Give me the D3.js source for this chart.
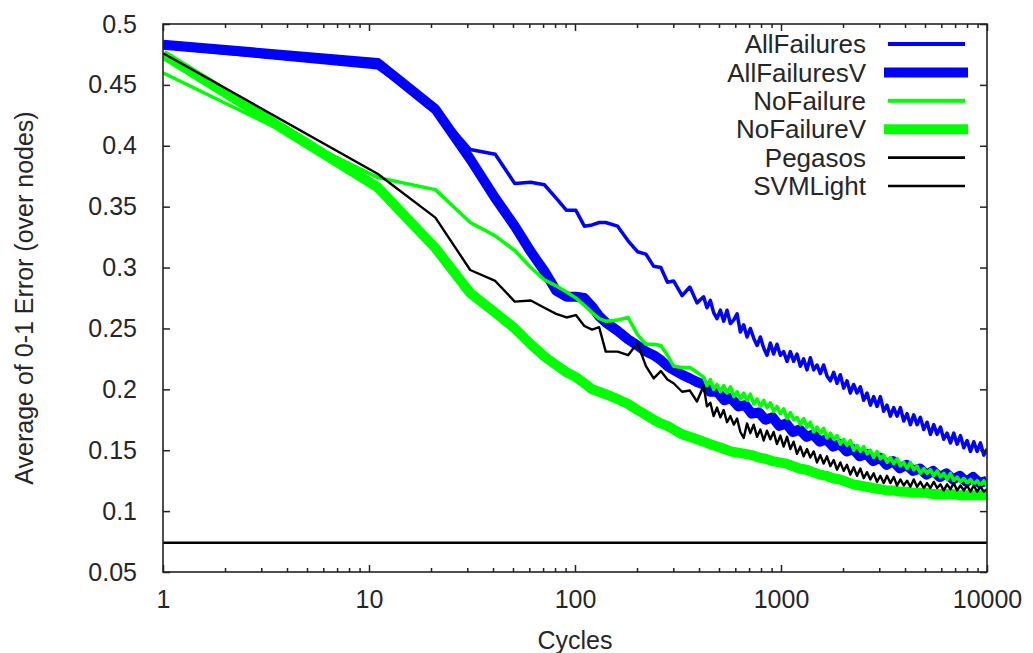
<!DOCTYPE html>
<html>
<head>
<meta charset="utf-8">
<script src="https://cdn.jsdelivr.net/npm/d3@7"></script>
<style>
  body { margin: 0; background: #fff; }
  svg text { font-family: "Liberation Sans", Arial, sans-serif; font-size: 25px; fill: #262626; }
</style>
</head>
<body>
<svg id="chart" width="1033" height="653"></svg>
<script>
// sample points of the two "V" runs
const cycles = [1, 11, 21, 31, 41, 51, 61, 71, 81, 91,
  101, 111, 121, 131, 141, 161, 181, 201, 221, 241,
  261, 281, 301, 331, 361, 391, 421, 451, 491, 531,
  571, 621, 671, 721, 781, 841, 911, 981, 1061, 1141,
  1231, 1331, 1431, 1541, 1661, 1791, 1931, 2081, 2241, 2411,
  2601, 2801, 3021, 3251, 3501, 3771, 4061, 4381, 4721, 5081,
  5471, 5901, 6351, 6841, 7371, 7941, 8551, 9211, 9991];

// denser sample points for the noisy thin runs
const cyclesFine = [1, 11, 21, 31, 41, 51, 61, 71, 81, 91,
  101, 111, 121, 131, 141, 161, 181, 201, 221, 241,
  261, 281, 301, 331, 361, 391,
  421, 437, 454, 471, 489, 508, 527, 547, 568, 590,
  612, 635, 659, 684, 710, 737, 765, 794, 824, 855,
  888, 921, 956, 993, 1030, 1070, 1110, 1152, 1196, 1241,
  1288, 1337, 1388, 1441, 1495, 1552, 1611, 1672, 1736, 1802,
  1870, 1941, 2015, 2091, 2171, 2253, 2339, 2428, 2520, 2616,
  2715, 2818, 2925, 3036, 3152, 3271, 3396, 3525, 3659, 3798,
  3942, 4092, 4247, 4409, 4576, 4750, 4931, 5118, 5313, 5515,
  5724, 5942, 6168, 6402, 6645, 6898, 7160, 7432, 7715, 8008,
  8312, 8628, 8956, 9296, 9649, 9991];

const allFailures = [0.481, 0.464, 0.430, 0.397, 0.393, 0.369, 0.370, 0.368, 0.357, 0.347,
  0.347, 0.334, 0.335, 0.337, 0.337, 0.334, 0.322, 0.313, 0.311, 0.301,
  0.300, 0.288, 0.289, 0.277, 0.284, 0.271,
  0.276, 0.267, 0.273, 0.263, 0.258, 0.265, 0.256, 0.265, 0.254, 0.257,
  0.262, 0.247, 0.253, 0.243, 0.250, 0.242, 0.236, 0.243, 0.234, 0.228,
  0.238, 0.229, 0.237, 0.228, 0.231, 0.223, 0.231, 0.223, 0.229, 0.219,
  0.225, 0.216, 0.226, 0.216, 0.220, 0.213, 0.220, 0.211, 0.207, 0.214,
  0.205, 0.212, 0.201, 0.207, 0.197, 0.204, 0.197, 0.202, 0.191, 0.197,
  0.187, 0.194, 0.186, 0.194, 0.182, 0.187, 0.178, 0.185, 0.178, 0.185,
  0.174, 0.180, 0.171, 0.179, 0.171, 0.177, 0.167, 0.173, 0.163, 0.171,
  0.163, 0.169, 0.159, 0.164, 0.156, 0.164, 0.155, 0.162, 0.152, 0.158,
  0.149, 0.157, 0.149, 0.156, 0.146, 0.151];

const allFailuresV = [0.483, 0.468, 0.430, 0.389, 0.357, 0.334, 0.313, 0.297, 0.281, 0.276,
  0.276, 0.275, 0.268, 0.260, 0.255, 0.248, 0.241, 0.236, 0.231, 0.228,
  0.224, 0.219, 0.216, 0.212, 0.209, 0.206, 0.204, 0.198, 0.198, 0.191,
  0.193, 0.186, 0.187, 0.180, 0.181, 0.175, 0.177, 0.170, 0.172, 0.165,
  0.167, 0.161, 0.163, 0.157, 0.159, 0.153, 0.155, 0.149, 0.151, 0.145,
  0.147, 0.141, 0.144, 0.138, 0.141, 0.135, 0.138, 0.133, 0.135, 0.130,
  0.133, 0.128, 0.131, 0.126, 0.129, 0.124, 0.128, 0.123, 0.125];

const noFailure = [0.460, 0.374, 0.364, 0.337, 0.326, 0.314, 0.300, 0.290, 0.285, 0.280,
  0.275, 0.269, 0.263, 0.258, 0.256, 0.257, 0.259, 0.245, 0.237, 0.237,
  0.236, 0.228, 0.219, 0.218, 0.218, 0.214,
  0.210, 0.203, 0.208, 0.200, 0.204, 0.198, 0.203, 0.197, 0.202, 0.194,
  0.198, 0.192, 0.197, 0.191, 0.196, 0.188, 0.192, 0.186, 0.191, 0.185,
  0.189, 0.182, 0.186, 0.180, 0.184, 0.176, 0.181, 0.175, 0.177, 0.171,
  0.176, 0.169, 0.173, 0.165, 0.169, 0.164, 0.168, 0.160, 0.164, 0.159,
  0.162, 0.155, 0.159, 0.154, 0.158, 0.150, 0.154, 0.149, 0.153, 0.147,
  0.150, 0.144, 0.149, 0.143, 0.146, 0.140, 0.144, 0.139, 0.143, 0.137,
  0.140, 0.135, 0.140, 0.134, 0.137, 0.131, 0.135, 0.131, 0.134, 0.129,
  0.133, 0.128, 0.131, 0.126, 0.131, 0.125, 0.128, 0.124, 0.127, 0.123,
  0.126, 0.122, 0.125, 0.121, 0.125, 0.121];

const noFailureV = [0.475, 0.366, 0.316, 0.279, 0.263, 0.250, 0.237, 0.227, 0.220, 0.214,
  0.210, 0.205, 0.200, 0.198, 0.196, 0.192, 0.188, 0.183, 0.179, 0.175,
  0.172, 0.170, 0.167, 0.163, 0.161, 0.159, 0.157, 0.155, 0.153, 0.151,
  0.149, 0.148, 0.147, 0.146, 0.144, 0.143, 0.141, 0.140, 0.139, 0.137,
  0.135, 0.134, 0.132, 0.130, 0.129, 0.127, 0.126, 0.124, 0.122, 0.121,
  0.120, 0.119, 0.118, 0.117, 0.117, 0.116, 0.116, 0.115, 0.115, 0.115,
  0.114, 0.114, 0.114, 0.114, 0.113, 0.113, 0.113, 0.113, 0.113];

const pegasos = [0.476, 0.377, 0.341, 0.298, 0.289, 0.272, 0.273, 0.267, 0.262, 0.259,
  0.261, 0.252, 0.249, 0.251, 0.231, 0.231, 0.228, 0.238, 0.219, 0.209,
  0.215, 0.208, 0.205, 0.198, 0.199, 0.190,
  0.203, 0.186, 0.189, 0.178, 0.185, 0.177, 0.183, 0.173, 0.178, 0.171,
  0.176, 0.165, 0.160, 0.172, 0.164, 0.171, 0.161, 0.167, 0.158, 0.166,
  0.159, 0.165, 0.155, 0.162, 0.153, 0.161, 0.151, 0.157, 0.147, 0.153,
  0.145, 0.151, 0.144, 0.149, 0.140, 0.146, 0.139, 0.145, 0.137, 0.142,
  0.134, 0.140, 0.133, 0.138, 0.130, 0.136, 0.129, 0.135, 0.127, 0.132,
  0.126, 0.131, 0.124, 0.129, 0.123, 0.129, 0.123, 0.128, 0.121, 0.126,
  0.121, 0.125, 0.120, 0.126, 0.120, 0.124, 0.119, 0.123, 0.119, 0.124,
  0.119, 0.122, 0.117, 0.122, 0.118, 0.123, 0.117, 0.121, 0.117, 0.121,
  0.116, 0.121, 0.116, 0.120, 0.116, 0.118];

// SVMLight is a single reference level
const svmLightCycles = [1, 10000];
const svmLight = [0.074, 0.074];

const seriesNames = ["AllFailures", "AllFailuresV", "NoFailure", "NoFailureV", "Pegasos", "SVMLight"];
const xTicks = [1, 10, 100, 1000, 10000];
const yTicks = [0.05, 0.1, 0.15, 0.2, 0.25, 0.3, 0.35, 0.4, 0.45, 0.5];

// set the dimensions and margins of the diagram
const svg = d3.select("#chart"),
      margin = {top: 24, right: 46, bottom: 81, left: 163},
      width = 1033 - margin.left - margin.right,
      height = 653 - margin.top - margin.bottom;

const x = d3.scaleLog().domain([1, 10000]).range([0, width]);
const y = d3.scaleLinear().domain([0.05, 0.5]).range([height, 0]);

const minorTicks = [];
[1, 10, 100, 1000].forEach(d => {
  for (let k = 2; k < 10; k++) minorTicks.push(k * d);
});

const g = svg.append("g")
    .attr("transform", "translate(" + margin.left + "," + margin.top + ")");

g.append("clipPath").attr("id", "plotClip")
  .append("rect").attr("width", width).attr("height", height);

// series styles, in gnuplot drawing order
const series = [
  {name: seriesNames[0], xs: cyclesFine, ys: allFailures, color: "#0000ff", w: 3.5},
  {name: seriesNames[1], xs: cycles, ys: allFailuresV, color: "#0000ff", w: 10},
  {name: seriesNames[2], xs: cyclesFine, ys: noFailure, color: "#00ff00", w: 3.5},
  {name: seriesNames[3], xs: cycles, ys: noFailureV, color: "#00ff00", w: 10},
  {name: seriesNames[4], xs: cyclesFine, ys: pegasos, color: "#000000", w: 2.4},
  {name: seriesNames[5], xs: svmLightCycles, ys: svmLight, color: "#000000", w: 2.5}
];

const line = d3.line()
    .x(d => x(d[0]))
    .y(d => y(d[1]));

const plot = g.append("g").attr("clip-path", "url(#plotClip)");

plot.selectAll(".series")
  .data(series)
  .enter().append("path")
  .attr("class", "series")
  .attr("fill", "none")
  .attr("stroke", d => d.color)
  .attr("stroke-width", d => d.w)
  .attr("stroke-linejoin", "round")
  .attr("d", d => line(d.xs.map((c, i) => [c, d.ys[i]])));

// axes (ticks point inwards, like gnuplot)
const axisColor = "#222";

g.append("g")
  .attr("class", "axis")
  .attr("transform", "translate(0," + height + ")")
  .call(d3.axisBottom(x).tickValues(xTicks).tickSize(-7).tickSizeOuter(0)
    .tickPadding(18).tickFormat(d3.format("d")));

g.append("g")
  .attr("class", "axis")
  .attr("transform", "translate(0," + height + ")")
  .call(d3.axisBottom(x).tickValues(minorTicks).tickSize(-4).tickSizeOuter(0).tickFormat(""));

g.append("g")
  .attr("class", "axis")
  .call(d3.axisTop(x).tickValues(xTicks).tickSize(-7).tickSizeOuter(0).tickFormat(""));

g.append("g")
  .attr("class", "axis")
  .call(d3.axisTop(x).tickValues(minorTicks).tickSize(-4).tickSizeOuter(0).tickFormat(""));

g.append("g")
  .attr("class", "axis")
  .call(d3.axisLeft(y).tickValues(yTicks).tickSize(-7).tickSizeOuter(0)
    .tickPadding(26).tickFormat(d => String(+d.toFixed(2))));

g.append("g")
  .attr("class", "axis")
  .attr("transform", "translate(" + width + ",0)")
  .call(d3.axisRight(y).tickValues(yTicks).tickSize(-7).tickSizeOuter(0).tickFormat(""));

g.selectAll(".axis .domain").remove();
g.selectAll(".axis line").attr("stroke", axisColor).attr("stroke-width", 1.5);
g.selectAll(".axis text")
  .attr("fill", "#262626")
  .style("font-family", "'Liberation Sans', Arial, sans-serif")
  .style("font-size", "25px");

// plot border
g.append("rect")
  .attr("width", width)
  .attr("height", height)
  .attr("fill", "none")
  .attr("stroke", axisColor)
  .attr("stroke-width", 1.6);

// axis titles
svg.append("text")
  .attr("x", margin.left + width / 2)
  .attr("y", 649)
  .attr("text-anchor", "middle")
  .text("Cycles");

svg.append("text")
  .attr("transform", "translate(33," + (margin.top + height / 2) + ") rotate(-90)")
  .attr("text-anchor", "middle")
  .text("Average of 0-1 Error (over nodes)");

// legend
const legend = g.append("g").attr("class", "legend");
const row = legend.selectAll(".row")
  .data(series)
  .enter().append("g")
  .attr("transform", (d, i) => "translate(0," + (20 + i * 28.4) + ")");

row.append("text")
  .attr("x", 703)
  .attr("dy", "0.35em")
  .attr("text-anchor", "end")
  .style("font-size", "26px")
  .text(d => d.name);

row.append("line")
  .attr("x1", d => d.w > 5 ? 721 : 725)
  .attr("x2", d => d.w > 5 ? 805 : 802)
  .attr("stroke", d => d.color)
  .attr("stroke-width", d => d.w > 5 ? 10 : (d.color === "#000000" ? 2.6 : 4));
</script>
</body>
</html>
